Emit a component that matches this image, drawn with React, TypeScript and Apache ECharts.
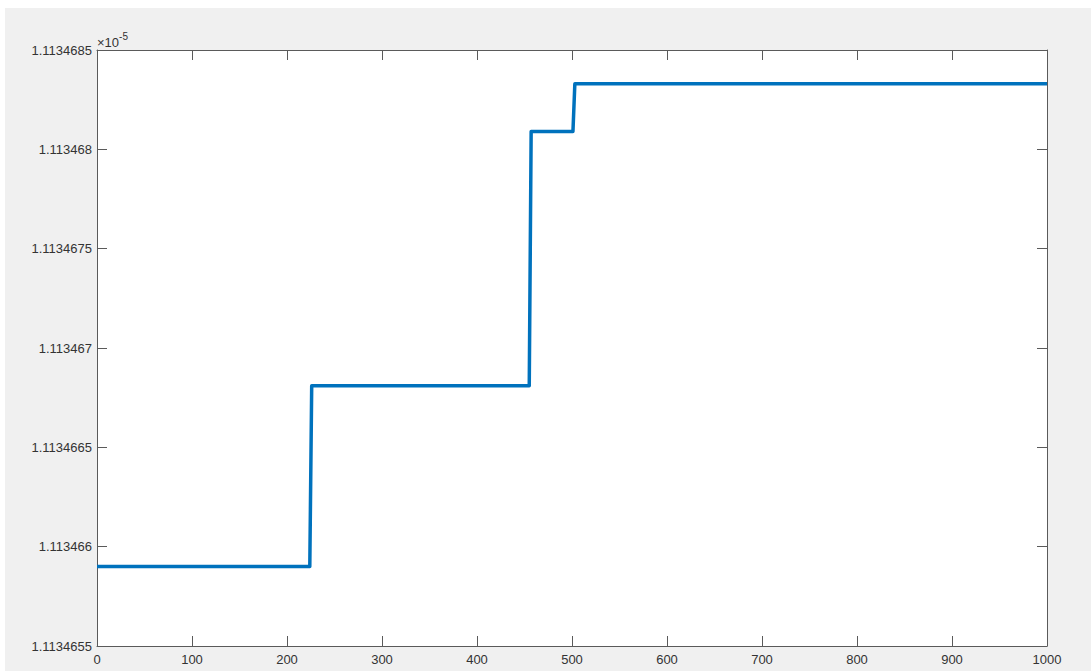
import React, { useEffect, useRef } from "react";
import * as echarts from "echarts";

// Step positions (sample index) and levels (in units of 1e-5)
const xPoints = [0, 224, 226, 455, 457, 501, 503, 1000];
const yLevels = [
  1.1134659, 1.1134659, 1.11346681, 1.11346681, 1.11346809, 1.11346809, 1.11346833, 1.11346833,
];
const yMin = 1.1134655;
const yMax = 1.1134685;
const yStep = 0.0000005;
const xMin = 0;
const xMax = 1000;
const xStep = 100;

const fmtY = (v: number) => String(parseFloat(v.toFixed(7)));
const fmtX = (v: number) => String(Math.round(v));

export default function App() {
  const ref = useRef<HTMLDivElement>(null);

  useEffect(() => {
    if (!ref.current) return;
    const chart = echarts.init(ref.current, undefined, { renderer: "svg" });
    const data = xPoints.map((x, i) => [x, yLevels[i]]);
    const textColor = "#333333";
    const axisColor = "#5a5a5a";
    const font = "Liberation Sans, Arial, sans-serif";

    chart.setOption({
      animation: false,
      backgroundColor: "#ffffff",
      graphic: [
        {
          type: "rect",
          z: -10,
          silent: true,
          shape: { x: 5, y: 8, width: 1100, height: 680 },
          style: { fill: "#f0f0f0" },
        },
        {
          type: "text",
          left: 97,
          top: 31,
          style: {
            text: "{a|×10}{b|-5}",
            rich: {
              a: { fontSize: 13, fontFamily: font, fill: textColor, padding: [6, 0, 0, 0] },
              b: { fontSize: 10, fontFamily: font, fill: textColor, padding: [0, 0, 6, 0] },
            },
          },
        },
      ],
      grid: {
        left: 97,
        top: 50,
        right: 44,
        bottom: 25,
        show: true,
        backgroundColor: "#ffffff",
        borderWidth: 0,
      },
      xAxis: [
        {
          type: "value",
          min: xMin,
          max: xMax,
          interval: xStep,
          position: "bottom",
          axisLine: { show: true, onZero: false, lineStyle: { color: axisColor, width: 1 } },
          axisTick: { show: true, inside: true, length: 10, lineStyle: { color: axisColor } },
          axisLabel: { color: textColor, fontSize: 13, fontFamily: font, margin: 7, formatter: fmtX },
          splitLine: { show: false },
        },
        {
          type: "value",
          min: xMin,
          max: xMax,
          interval: xStep,
          position: "top",
          axisLine: { show: true, onZero: false, lineStyle: { color: axisColor, width: 1 } },
          axisTick: { show: true, inside: true, length: 10, lineStyle: { color: axisColor } },
          axisLabel: { show: false },
          splitLine: { show: false },
        },
      ],
      yAxis: [
        {
          type: "value",
          min: yMin,
          max: yMax,
          interval: yStep,
          position: "left",
          axisLine: { show: true, onZero: false, lineStyle: { color: axisColor, width: 1 } },
          axisTick: { show: true, inside: true, length: 10, lineStyle: { color: axisColor } },
          axisLabel: {
            color: textColor,
            fontSize: 13,
            fontFamily: font,
            margin: 5,
            formatter: fmtY,
          },
          splitLine: { show: false },
        },
        {
          type: "value",
          min: yMin,
          max: yMax,
          interval: yStep,
          position: "right",
          axisLine: { show: true, onZero: false, lineStyle: { color: axisColor, width: 1 } },
          axisTick: { show: true, inside: true, length: 10, lineStyle: { color: axisColor } },
          axisLabel: { show: false },
          splitLine: { show: false },
        },
      ],
      series: [
        {
          type: "line",
          data,
          xAxisIndex: 0,
          yAxisIndex: 0,
          showSymbol: false,
          symbol: "none",
          lineStyle: { color: "#0072BD", width: 3.5, join: "round" },
        },
      ],
    });

    return () => chart.dispose();
  }, []);

  return (
    <div
      ref={ref}
      style={{ position: "fixed", left: 0, top: 0, width: 1091, height: 671 }}
    />
  );
}
